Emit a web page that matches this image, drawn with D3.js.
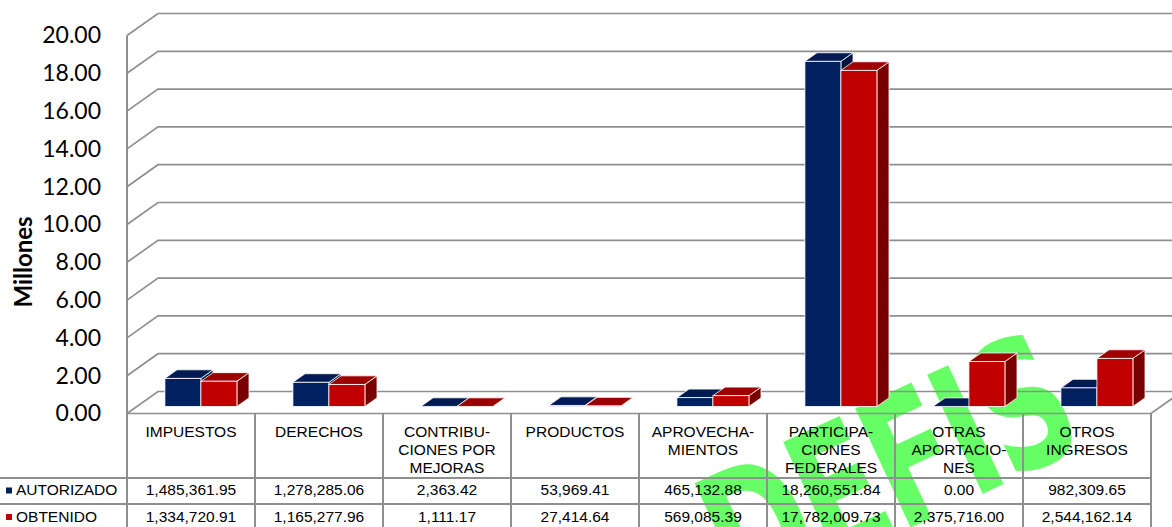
<!DOCTYPE html>
<html>
<head>
<meta charset="utf-8">
<script src="https://cdn.jsdelivr.net/npm/d3@7"></script>
<style>
  html, body { margin: 0; padding: 0; background: #ffffff; }
  svg { display: block; }
</style>
</head>
<body>
<div id="chart"></div>
<script>
// ---------- DATA ----------
const categories = ["IMPUESTOS", "DERECHOS", "CONTRIBUCIONES POR MEJORAS", "PRODUCTOS",
  "APROVECHAMIENTOS", "PARTICIPACIONES FEDERALES", "OTRAS APORTACIONES", "OTROS INGRESOS"];
const headerLines = [
  ["IMPUESTOS"],
  ["DERECHOS"],
  ["CONTRIBU-", "CIONES POR", "MEJORAS"],
  ["PRODUCTOS"],
  ["APROVECHA-", "MIENTOS"],
  ["PARTICIPA-", "CIONES", "FEDERALES"],
  ["OTRAS", "APORTACIO-", "NES"],
  ["OTROS", "INGRESOS"]
];
const seriesNames = ["AUTORIZADO", "OBTENIDO"];
const autorizado = [1485361.95, 1278285.06, 2363.42, 53969.41, 465132.88, 18260551.84, 0.00, 982309.65];
const obtenido   = [1334720.91, 1165277.96, 1111.17, 27414.64, 569085.39, 17782009.73, 2375716.00, 2544162.14];
const yTicks = [0, 2, 4, 6, 8, 10, 12, 14, 16, 18, 20];
const axisTitle = "Millones";
const watermarkText = "DEFIS";

(function() {
const W = 1172, H = 527;
const pLeft = 127, pRight = 1151, pBottom = 413.5, pTop = 35.5;
const depthX = 31, depthY = -22;          // floor depth (oblique)
const barF0 = 0.32, barF1 = 0.71;          // bars occupy this depth range
const tableRows = [413.5, 478, 504, 530];

const colors = {
  AUTORIZADO: { front: "#002060", top: "#001a52", side: "#001440" },
  OBTENIDO:   { front: "#c00000", top: "#9c0000", side: "#780000" }
};
const gridColor = "#8f8f8f";

const svg = d3.select("#chart").append("svg").attr("width", W).attr("height", H);

// watermark (behind everything)
svg.append("text")
  .attr("transform", "translate(740,607) rotate(-25) scale(0.68,1)")
  .attr("text-anchor", "start")
  .attr("font-family", "DejaVu Sans")
  .attr("font-weight", "bold")
  .attr("font-size", 180)
  .attr("letter-spacing", -6)
  .attr("fill", "#66ff66")
  .text(watermarkText);

const x0 = d3.scaleBand().domain(categories).range([pLeft, pRight]).padding(0);
const x1 = d3.scaleBand().domain(seriesNames).range([28, 100]).padding(0);
const y = d3.scaleLinear().domain([0, 20]).range([pBottom, pTop]);

// ---------- walls / gridlines ----------
const g = svg.append("g");
yTicks.forEach(t => {
  const yy = y(t);
  g.append("path")
    .attr("d", `M${pLeft},${yy} L${pLeft + depthX},${yy + depthY} L${W + 5},${yy + depthY}`)
    .attr("fill", "none").attr("stroke", gridColor).attr("stroke-width", 1.7);
});
g.append("path")
  .attr("d", `M${pLeft},${pBottom} L${pRight},${pBottom} L${pRight + depthX},${pBottom + depthY}`)
  .attr("fill", "none").attr("stroke", gridColor).attr("stroke-width", 1.7);
g.append("line").attr("x1", pLeft).attr("x2", pLeft).attr("y1", y(20)).attr("y2", H)
  .attr("stroke", gridColor).attr("stroke-width", 2);

// tick labels
svg.append("g").selectAll("text").data(yTicks).join("text")
  .attr("x", 101).attr("y", d => y(d) + 2)
  .attr("text-anchor", "end").attr("dominant-baseline", "middle")
  .attr("font-family", "Lato, 'Open Sans', sans-serif").attr("font-size", 23).attr("fill", "#000")
  .text(d => d3.format(".2f")(d));

// axis title
svg.append("text")
  .attr("transform", "translate(32,262) rotate(-90)")
  .attr("text-anchor", "middle")
  .attr("font-family", "Lato, 'Open Sans', sans-serif").attr("font-weight", "bold").attr("font-size", 24)
  .attr("fill", "#000").text(axisTitle);

// ---------- bars ----------
const barShiftX = depthX * barF0, barShiftY = depthY * barF0;
const bdx = depthX * (barF1 - barF0), bdy = depthY * (barF1 - barF0);
const barData = [];
categories.forEach((c, i) => {
  [autorizado, obtenido].forEach((arr, s) => {
    barData.push({ cat: c, series: seriesNames[s], value: arr[i] / 1e6 });
  });
});
const bars = svg.append("g").selectAll("g").data(barData).join("g");
bars.each(function(d) {
  const gb = d3.select(this);
  const xa = x0(d.cat) + x1(d.series) + barShiftX;
  const xb = xa + x1.bandwidth();
  const yb = y(0) + barShiftY;
  const yt = y(d.value) + barShiftY;
  const col = colors[d.series];
  gb.append("path")
    .attr("d", `M${xb},${yt} L${xb + bdx},${yt + bdy} L${xb + bdx},${yb + bdy} L${xb},${yb} Z`)
    .attr("fill", col.side).attr("stroke", "#fff").attr("stroke-width", 0.8);
  gb.append("path")
    .attr("d", `M${xa},${yt} L${xb},${yt} L${xb + bdx},${yt + bdy} L${xa + bdx},${yt + bdy} Z`)
    .attr("fill", col.top).attr("stroke", "#fff").attr("stroke-width", 0.8);
  if (yb - yt > 0.3) {
    gb.append("rect")
      .attr("x", xa).attr("y", yt).attr("width", xb - xa).attr("height", yb - yt)
      .attr("fill", col.front).attr("stroke", "#fff").attr("stroke-width", 0.8);
  }
});

// ---------- data table ----------
const tg = svg.append("g");
const tableFont = "'Liberation Sans', Arial, sans-serif";
const tableSize = 15.5;
tableRows.slice(1).forEach(ry => {
  tg.append("line").attr("x1", 0).attr("x2", pRight).attr("y1", ry).attr("y2", ry)
    .attr("stroke", gridColor).attr("stroke-width", 2);
});
categories.forEach((c, i) => {
  const xx = x0(c) + x0.bandwidth();
  tg.append("line").attr("x1", xx).attr("x2", xx).attr("y1", pBottom).attr("y2", H)
    .attr("stroke", gridColor).attr("stroke-width", 2);
});
categories.forEach((c, i) => {
  const cx = x0(c) + x0.bandwidth() / 2;
  headerLines[i].forEach((ln, k) => {
    tg.append("text").attr("x", cx).attr("y", 433 + k * 17.8)
      .attr("text-anchor", "middle").attr("dominant-baseline", "middle")
      .attr("font-family", tableFont).attr("font-size", tableSize).attr("fill", "#000")
      .text(ln);
  });
});
const fmt = d3.format(",.2f");
[autorizado, obtenido].forEach((arr, s) => {
  const cy = s === 0 ? 491 : 517.5;
  arr.forEach((v, i) => {
    const cx = x0(categories[i]) + x0.bandwidth() / 2;
    tg.append("text").attr("x", cx).attr("y", cy)
      .attr("text-anchor", "middle").attr("dominant-baseline", "middle")
      .attr("font-family", tableFont).attr("font-size", tableSize).attr("fill", "#000")
      .text(fmt(v));
  });
  tg.append("rect").attr("x", 6).attr("y", cy - 3.5).attr("width", 6).attr("height", 6)
    .attr("fill", colors[seriesNames[s]].front);
  tg.append("text").attr("x", 16).attr("y", cy)
    .attr("dominant-baseline", "middle")
    .attr("font-family", tableFont).attr("font-size", tableSize).attr("fill", "#000")
    .text(seriesNames[s]);
});
})();
</script>
</body>
</html>
